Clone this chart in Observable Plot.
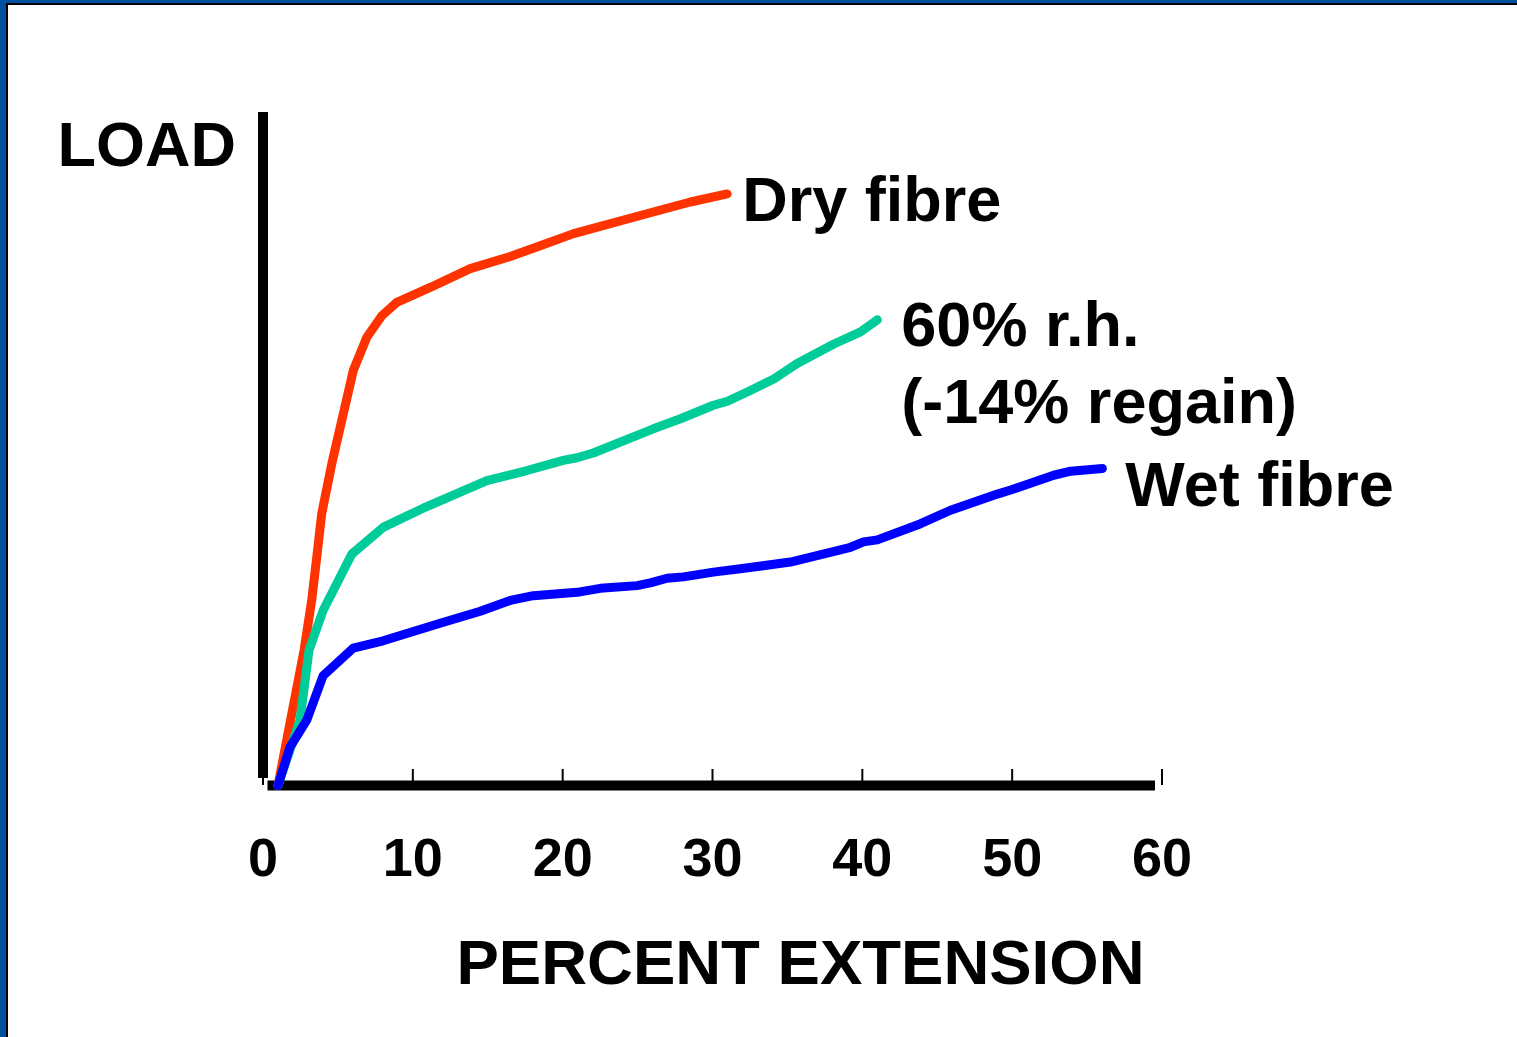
<!DOCTYPE html>
<html>
<head>
<meta charset="utf-8">
<script src="https://cdn.jsdelivr.net/npm/d3@7"></script>
<script src="https://cdn.jsdelivr.net/npm/@observablehq/plot@0.6"></script>
<style>
  html, body { margin: 0; padding: 0; background: #fff; }
  #outer {
    position: absolute; left: 0; top: 0; width: 1517px; height: 1037px;
    box-sizing: border-box; overflow: hidden; background: #fff;
    border-top: 3px solid #0050a0; border-left: 6px solid #0050a0;
  }
  #inner {
    box-sizing: border-box; width: 1511px; height: 1034px;
    border-top: 2px solid #000; border-left: 2px solid #000;
  }
  #chart svg { display: block; }
</style>
</head>
<body>
<div id="outer"><div id="inner"><div id="chart"></div></div></div>
<script>
// Percent extension (x) and relative load (y, arbitrary units 0–100)
const dryX = [1.0, 1.84, 2.74, 3.25, 3.56, 3.92, 4.59, 6.03, 6.93, 7.93, 8.93, 11.16, 13.83, 16.5, 18.5, 20.73, 25.18, 28.52, 30.98];
const dryY = [0, 9.7, 20.1, 27.5, 33.4, 40.4, 47.8, 61.7, 66.6, 69.8, 71.8, 74.0, 76.8, 78.6, 80.2, 82.0, 84.7, 86.7, 87.9];

const rhX = [1.0, 2.47, 3.07, 4.01, 5.93, 8.04, 10.69, 14.94, 17.62, 20.04, 20.96, 22.04, 24.72, 26.05, 27.86, 30.06, 31.0, 32.53, 34.09, 35.65, 38.10, 39.88, 41.0];
const rhY = [0, 9.7, 20.1, 26.0, 34.4, 38.4, 41.2, 45.3, 46.8, 48.3, 48.7, 49.4, 51.8, 53.0, 54.5, 56.5, 57.1, 58.7, 60.4, 62.7, 65.6, 67.4, 69.2];

const wetX = [1.0, 1.80, 2.92, 4.01, 6.01, 8.02, 11.82, 14.5, 16.5, 18.04, 20.96, 22.51, 24.96, 25.85, 26.97, 28.06, 30.06, 31.86, 35.2, 39.21, 40.08, 41.0, 43.89, 45.89, 49.01, 49.9, 52.77, 53.91, 56.02];
const wetY = [0, 5.7, 9.7, 16.3, 20.4, 21.5, 24.1, 25.9, 27.5, 28.2, 28.7, 29.3, 29.7, 30.1, 30.8, 31.0, 31.7, 32.2, 33.2, 35.4, 36.2, 36.5, 38.9, 40.9, 43.3, 43.9, 46.1, 46.7, 47.1];

const tickValues = [0, 10, 20, 30, 40, 50, 60];
const seriesNames = ["Dry fibre", "60% r.h.\n(-14% regain)", "Wet fibre"];
const seriesColors = ["#ff3300", "#00cc99", "#0000ff"];
const xLabel = "PERCENT EXTENSION";
const yLabel = "LOAD";

const toPoints = (xs, ys) => xs.map((x, i) => ({x, y: ys[i]}));
const series = [toPoints(dryX, dryY), toPoints(rhX, rhY), toPoints(wetX, wetY)];
const labelDx = [15, 24, 23];
const labelDy = [-28, -28, -17];

const lineMarks = series.map((pts, i) => Plot.line(pts, {
  x: "x", y: "y", stroke: seriesColors[i], strokeWidth: 9,
  strokeLinecap: "round", strokeLinejoin: "round"
}));
const labelMarks = series.map((pts, i) => Plot.text([pts[pts.length - 1]], {
  x: "x", y: "y", text: () => seriesNames[i], textAnchor: "start",
  lineAnchor: "top", lineHeight: 1.22, dx: labelDx[i], dy: labelDy[i],
  fontSize: 63, fontWeight: "bold", fill: "black"
}));

const chart = Plot.plot({
  width: 1509, height: 1032,
  marginLeft: 254.5, marginRight: 355.5, marginTop: 107, marginBottom: 252,
  x: {domain: [0, 60], axis: null},
  y: {domain: [0, 100], axis: null},
  style: {fontFamily: "'Liberation Sans', Arial, sans-serif", background: "white", color: "black"},
  marks: [
    Plot.tickX(tickValues, {x: d => d, stroke: "black", strokeWidth: 2, insetTop: 657}),
    Plot.ruleX([0], {stroke: "black", strokeWidth: 10, insetBottom: 7}),
    Plot.ruleY([0], {stroke: "black", strokeWidth: 10, insetLeft: 5, insetRight: 6.5}),
    Plot.axisX(tickValues, {label: null, tickSize: 0, tickPadding: 52, fontSize: 54, fontWeight: "bold", fill: "black", tickFormat: d => String(d)}),
    Plot.text([xLabel], {frameAnchor: "bottom", lineAnchor: "bottom", dy: 198, dx: 88, fontSize: 63.5, fontWeight: "bold", fill: "black"}),
    Plot.text([yLabel], {frameAnchor: "top-left", textAnchor: "end", lineAnchor: "bottom", dx: -27, dy: 53, fontSize: 63, fontWeight: "bold", fill: "black"}),
    ...lineMarks,
    ...labelMarks
  ]
});
document.getElementById("chart").appendChild(chart);
</script>
</body>
</html>
